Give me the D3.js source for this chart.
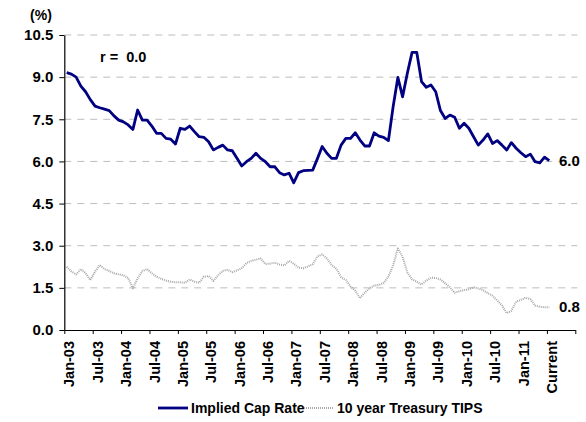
<!DOCTYPE html>
<html>
<head>
<meta charset="utf-8">
<script src="https://cdn.jsdelivr.net/npm/d3@7"></script>
<style>
  body { margin: 0; background: #fff; }
  text { font-family: "Liberation Sans", Arial, sans-serif; font-weight: bold; fill: #000; }
</style>
</head>
<body>
<div id="chart"></div>
<script>
// axis labels, one every 6 months
var tickLabels = ["Jan-03", "Jul-03", "Jan-04", "Jul-04", "Jan-05", "Jul-05", "Jan-06", "Jul-06",
                  "Jan-07", "Jul-07", "Jan-08", "Jul-08", "Jan-09", "Jul-09", "Jan-10", "Jul-10",
                  "Jan-11", "Current"];
var yTicks = [0, 1.5, 3.0, 4.5, 6.0, 7.5, 9.0, 10.5];

// monthly values, Jan-03 .. Current
var capRate = [9.16, 9.11, 9.00, 8.68, 8.48, 8.20, 7.97, 7.91, 7.86, 7.81, 7.62, 7.47, 7.41, 7.30, 7.14,
               7.83, 7.47, 7.47, 7.26, 7.00, 7.00, 6.82, 6.79, 6.62, 7.18, 7.14, 7.26, 7.06, 6.88, 6.86,
               6.70, 6.41, 6.50, 6.58, 6.41, 6.38, 6.11, 5.84, 5.99, 6.11, 6.29, 6.11, 5.99, 5.81, 5.81,
               5.60, 5.52, 5.58, 5.24, 5.60, 5.67, 5.68, 5.69, 6.10, 6.53, 6.29, 6.11, 6.11, 6.58, 6.82,
               6.82, 7.02, 6.76, 6.55, 6.55, 7.02, 6.90, 6.86, 6.74, 7.95, 8.99, 8.30, 9.14, 9.88, 9.88,
               8.84, 8.64, 8.72, 8.48, 7.81, 7.53, 7.65, 7.57, 7.18, 7.36, 7.18, 6.88, 6.58, 6.76, 6.98,
               6.64, 6.74, 6.58, 6.41, 6.67, 6.47, 6.31, 6.17, 6.26, 5.99, 5.95, 6.15, 6.03];
var tips = [2.25, 2.08, 1.98, 2.17, 2.02, 1.78, 2.08, 2.31, 2.17, 2.10, 2.02, 1.98, 1.95, 1.85, 1.48,
            1.84, 2.10, 2.17, 2.02, 1.90, 1.82, 1.76, 1.72, 1.70, 1.70, 1.68, 1.80, 1.72, 1.68, 1.90,
            1.92, 1.75, 1.95, 2.10, 2.14, 2.06, 2.12, 2.20, 2.38, 2.46, 2.50, 2.55, 2.35, 2.36, 2.40,
            2.33, 2.30, 2.46, 2.36, 2.22, 2.20, 2.26, 2.34, 2.62, 2.69, 2.55, 2.31, 2.18, 1.88, 1.78,
            1.55, 1.40, 1.13, 1.33, 1.48, 1.58, 1.60, 1.68, 1.90, 2.30, 2.90, 2.60, 2.05, 1.80, 1.72,
            1.62, 1.76, 1.86, 1.85, 1.80, 1.66, 1.52, 1.33, 1.38, 1.42, 1.45, 1.52, 1.48, 1.42, 1.31,
            1.22, 1.05, 0.88, 0.60, 0.68, 1.01, 1.07, 1.15, 1.10, 0.87, 0.83, 0.81, 0.81];

var rLabel = "r =  0.0";
var series = [
    { name: "Implied Cap Rate", values: capRate, color: "#000080", width: 2.8, dash: null },
    { name: "10 year Treasury TIPS", values: tips, color: "#a8a8a8", width: 2, dash: "1,1" }
];

var width = 586, height = 422;
var plotLeft = 64.3, plotRight = 575.3, plotTop = 35, plotBottom = 330;

var svg = d3.select("#chart").append("svg")
    .attr("width", width)
    .attr("height", height);

// 108 month slots on the category axis, points sit in the middle of a slot
var x = d3.scaleLinear().domain([0, 108]).range([plotLeft, plotRight]);
var y = d3.scaleLinear().domain([0, 10.5]).range([plotBottom, plotTop]);

// dashed gridlines
svg.append("g")
  .selectAll("line")
  .data(yTicks.filter(function(d) { return d > 0; }))
  .enter().append("line")
    .attr("x1", plotLeft).attr("x2", plotRight + 2)
    .attr("y1", function(d) { return y(d); })
    .attr("y2", function(d) { return y(d); })
    .attr("stroke", "#bdbdbd")
    .attr("stroke-width", 1)
    .attr("stroke-dasharray", "7,6");

// y axis
var yAxis = svg.append("g")
    .attr("transform", "translate(" + plotLeft + ",0)")
    .call(d3.axisLeft(y).tickValues(yTicks).tickFormat(d3.format(".1f")).tickSizeInner(5).tickSizeOuter(0).tickPadding(6));
yAxis.selectAll("text").style("font-size", "15px");

// x axis
var xAxis = svg.append("g")
    .attr("transform", "translate(0," + plotBottom + ")")
    .call(d3.axisBottom(x).tickValues(d3.range(0, 109, 6))
        .tickFormat(function(d, i) { return tickLabels[i] || ""; })
        .tickSizeInner(4).tickSizeOuter(0));
xAxis.selectAll("text")
    .style("font-size", "14.5px")
    .attr("text-anchor", "end")
    .attr("transform", "rotate(-90)")
    .attr("x", -11)
    .attr("y", 4.5)
    .attr("dy", "0.35em");
svg.selectAll(".domain").attr("stroke", "#000").attr("stroke-width", 1.2);
svg.selectAll(".tick line").attr("stroke", "#000");

// lines
var line = d3.line()
    .x(function(d, i) { return x(i + 0.5); })
    .y(function(d) { return y(d); });

series.forEach(function(s) {
    svg.append("path")
      .datum(s.values)
      .attr("fill", "none")
      .attr("stroke", s.color)
      .attr("stroke-width", s.width)
      .attr("stroke-dasharray", s.dash)
      .attr("stroke-linejoin", "round")
      .attr("d", line);

    // last value at the end of each line
    var last = s.values[s.values.length - 1];
    svg.append("text")
      .attr("x", 559)
      .attr("y", y(last))
      .attr("dy", "0.35em")
      .style("font-size", "15px")
      .text(d3.format(".1f")(last));
});

// unit and correlation labels
svg.append("text")
  .attr("x", 41).attr("y", 20)
  .attr("text-anchor", "middle")
  .style("font-size", "14px")
  .text("(%)");
svg.append("text")
  .attr("x", 100).attr("y", 62)
  .style("font-size", "14.5px")
  .style("white-space", "pre")
  .text(rLabel);

// legend
var legendX = [158, 304];
series.forEach(function(s, i) {
    var g = svg.append("g").attr("transform", "translate(" + legendX[i] + ",408)");
    g.append("line")
      .attr("x1", 0).attr("x2", 30)
      .attr("stroke", s.color)
      .attr("stroke-width", s.width)
      .attr("stroke-dasharray", s.dash);
    g.append("text")
      .attr("x", 33)
      .attr("dy", "0.35em")
      .style("font-size", "14px")
      .text(s.name);
});
</script>
</body>
</html>
